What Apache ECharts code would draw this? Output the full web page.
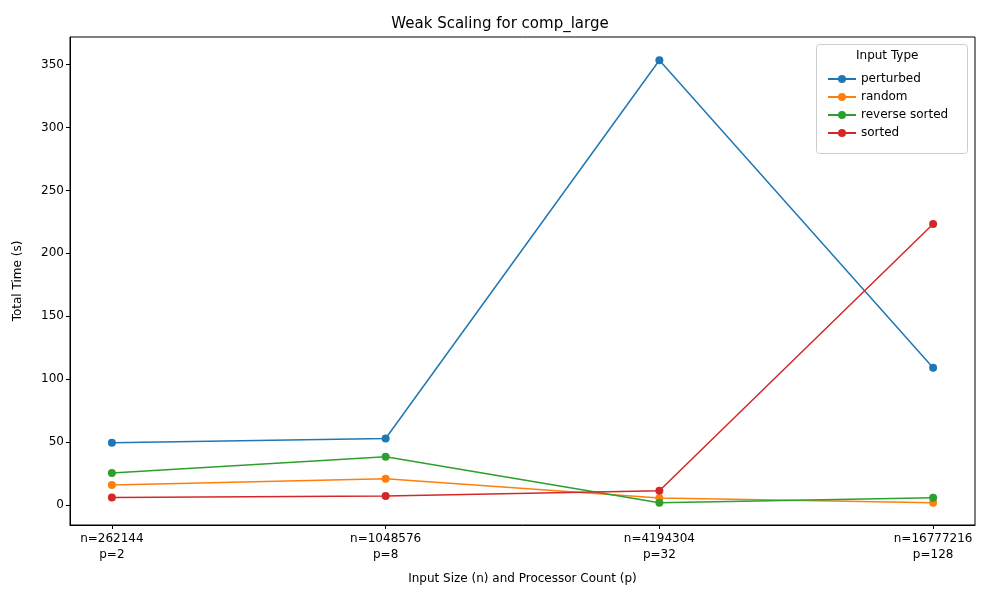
<!DOCTYPE html>
<html>
<head>
<meta charset="utf-8">
<script src="https://cdn.jsdelivr.net/npm/echarts@6/dist/echarts.min.js"></script>
<style>html,body{margin:0;padding:0;background:#fff}#chart{width:1000px;height:600px}</style>
</head>
<body>
<div id="chart"></div>
<script>
// 数据
const categories = ['n=262144\np=2', 'n=1048576\np=8', 'n=4194304\np=32', 'n=16777216\np=128'];
const seriesNames = ['perturbed', 'random', 'reverse sorted', 'sorted'];
const perturbed = [49.3, 52.8, 353.5, 109];
const random = [15.8, 20.7, 5.4, 1.6];
const reverseSorted = [25.4, 38.2, 1.6, 5.6];
const sorted = [5.9, 7.1, 11.2, 223.3];
const yTicks = [0, 50, 100, 150, 200, 250, 300, 350];
const colors = ['#1f77b4', '#ff7f0e', '#2ca02c', '#d62728'];

const chart = echarts.init(document.getElementById('chart'));
const allData = [perturbed, random, reverseSorted, sorted];
const font = 'DejaVu Sans';

chart.setOption({
    animation: false,
    textStyle: { fontFamily: font },
    title: {
        text: 'Weak Scaling for comp_large', left: 'center', top: 12,
        textStyle: { fontSize: 15, fontWeight: 'normal', color: '#000', fontFamily: font }
    },
    grid: { left: 70, right: 25, top: 37, bottom: 75, show: true, borderColor: '#000', borderWidth: 1 },
    graphic: [
        { type: 'rect', right: 32, top: 44, shape: { width: 151, height: 109, r: 3 },
          style: { fill: 'rgba(255,255,255,0.8)', stroke: '#ccc', lineWidth: 1 }, z: 10 },
        { type: 'text', left: 856, top: 50, style: { text: 'Input Type', fontSize: 12, fill: '#000', fontFamily: font }, z: 11 }
    ],
    legend: {
        orient: 'vertical', left: 822, top: 68, itemGap: 6, itemWidth: 28, itemHeight: 10, z: 12,
        textStyle: { fontSize: 12, color: '#000', fontFamily: font },
        data: seriesNames
    },
    xAxis: {
        type: 'value', min: -0.153, max: 3.153,
        name: 'Input Size (n) and Processor Count (p)', nameLocation: 'middle', nameGap: 48,
        nameTextStyle: { fontSize: 12, color: '#000' },
        splitLine: { show: false },
        axisLine: { onZero: false, lineStyle: { color: '#000' } },
        axisTick: { customValues: [0, 1, 2, 3], lineStyle: { color: '#000' }, length: 4 },
        axisLabel: { customValues: [0, 1, 2, 3], formatter: v => categories[Math.round(v)],
            fontSize: 12, color: '#000', lineHeight: 16, align: 'center', margin: 6 }
    },
    yAxis: {
        type: 'value', min: -16, max: 372,
        name: 'Total Time (s)', nameLocation: 'middle', nameGap: 46,
        nameTextStyle: { fontSize: 12, color: '#000' },
        splitLine: { show: false },
        axisLine: { show: true, onZero: false, lineStyle: { color: '#000' } },
        axisTick: { show: true, customValues: yTicks, lineStyle: { color: '#000' }, length: 4 },
        axisLabel: { customValues: yTicks, fontSize: 12, color: '#000', margin: 6 }
    },
    series: seriesNames.map((name, i) => ({
        name, type: 'line', data: allData[i].map((v, j) => [j, v]),
        symbol: 'circle', symbolSize: 8,
        itemStyle: { color: colors[i] }, lineStyle: { width: 1.5, color: colors[i] }
    }))
});
</script>
</body>
</html>
